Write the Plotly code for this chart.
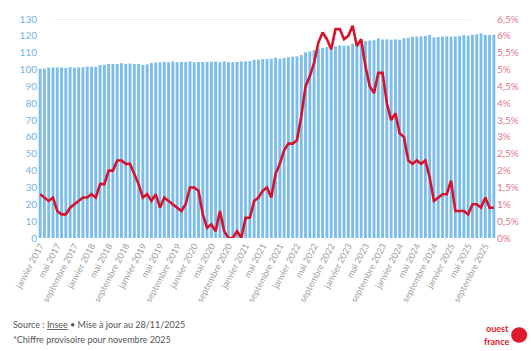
import plotly.graph_objects as go

# Mois de janvier 2017 à novembre 2025
mois_noms = ["janvier", "février", "mars", "avril", "mai", "juin", "juillet",
             "août", "septembre", "octobre", "novembre", "décembre"]
mois = [f"{m} {a}" for a in range(2017, 2026) for m in mois_noms][:107]

# Indice des prix à la consommation (base 100 en 2015)
indice = [
    100.41, 100.53, 101.16, 101.25, 101.25, 101.23, 100.92, 101.40, 101.16, 101.29, 101.39, 101.70,
    101.59, 101.69, 102.71, 102.83, 103.30, 103.32, 103.24, 103.75, 103.41, 103.56, 103.30, 103.25,
    102.70, 103.02, 103.89, 104.17, 104.24, 104.50, 104.30, 104.76, 104.39, 104.51, 104.42, 104.87,
    104.23, 104.48, 104.54, 104.61, 104.62, 104.76, 104.39, 104.85, 104.37, 104.36, 104.55, 104.76,
    104.85, 104.98, 105.71, 105.88, 106.14, 106.25, 106.39, 106.99, 106.43, 106.87, 107.33, 107.63,
    107.79, 108.64, 110.21, 110.71, 111.54, 112.46, 112.74, 113.34, 112.68, 113.81, 114.29, 114.16,
    114.20, 115.33, 116.34, 117.08, 116.98, 117.21, 117.36, 118.55, 117.80, 117.90, 117.69, 117.94,
    117.64, 118.57, 118.86, 119.42, 119.55, 119.73, 119.94, 120.56, 119.11, 119.36, 119.54, 119.68,
    119.52, 119.64, 119.91, 120.41, 120.08, 120.63, 120.90, 121.46, 120.55, 120.52, 120.58,
]

# Inflation sur un an (%)
inflation = [
    1.3, 1.2, 1.1, 1.2, 0.8, 0.7, 0.7, 0.9, 1.0, 1.1, 1.2, 1.2,
    1.3, 1.2, 1.6, 1.6, 2.0, 2.0, 2.3, 2.3, 2.2, 2.2, 1.9, 1.6,
    1.2, 1.3, 1.1, 1.3, 0.9, 1.2, 1.1, 1.0, 0.9, 0.8, 1.0, 1.5,
    1.5, 1.4, 0.7, 0.3, 0.4, 0.2, 0.8, 0.2, 0.0, 0.0, 0.2, 0.0,
    0.6, 0.6, 1.1, 1.2, 1.4, 1.5, 1.2, 1.9, 2.2, 2.6, 2.8, 2.8,
    2.9, 3.6, 4.5, 4.8, 5.2, 5.8, 6.1, 5.9, 5.6, 6.2, 6.2, 5.9,
    6.0, 6.3, 5.7, 5.9, 5.1, 4.5, 4.3, 4.9, 4.9, 4.0, 3.5, 3.7,
    3.1, 3.0, 2.3, 2.2, 2.3, 2.2, 2.3, 1.8, 1.1, 1.2, 1.3, 1.3,
    1.7, 0.8, 0.8, 0.8, 0.7, 1.0, 1.0, 0.9, 1.2, 0.9, 0.9,
]

# Graduations affichées sur l'axe des mois (tous les quatre mois)
ticks_mois = mois[::4]

police = "Lato, 'Open Sans', sans-serif"

fig = go.Figure()
fig.add_trace(go.Bar(
    x=mois, y=indice, marker=dict(color="#7dbdec", line=dict(width=0)),
    name="Indice", showlegend=False,
))
fig.add_trace(go.Scatter(
    x=mois, y=inflation, yaxis="y2", mode="lines",
    line=dict(color="#d7132c", width=2.6), name="Inflation", showlegend=False,
))

fig.update_layout(
    width=531, height=351,
    margin=dict(l=38, r=34, t=12, b=113),
    paper_bgcolor="white", plot_bgcolor="white",
    separators=", ",
    bargap=0.32,
    font=dict(family=police),
    xaxis=dict(
        type="category", tickmode="array", tickvals=ticks_mois, ticktext=ticks_mois,
        tickangle=-62, tickfont=dict(size=9, color="#a0a0a0"),
        showgrid=False, showline=False, ticks="", zeroline=False,
    ),
    yaxis=dict(
        range=[0, 130], dtick=10, showgrid=False, zeroline=False, showline=False,
        tickfont=dict(size=10, color="#72b4e6"), ticks="",
    ),
    yaxis2=dict(
        overlaying="y", side="right", range=[0, 6.5], dtick=0.5, ticksuffix="%",
        showgrid=False, zeroline=False, showline=False,
        tickfont=dict(size=10, color="#e0788a"), ticks="",
    ),
    shapes=[
        dict(type="line", xref="paper", yref="y", x0=0.035, x1=0.94, y0=130, y1=130,
             line=dict(color="#e6e6e6", width=1), layer="below"),
        dict(type="circle", xref="paper", yref="paper",
             x0=1.033, x1=1.068, y0=-0.478, y1=-0.407,
             fillcolor="#e0192f", line=dict(width=0)),
    ],
    annotations=[
        dict(text="Source : <u>Insee</u> • Mise à jour au 28/11/2025",
             xref="paper", yref="paper", x=-0.058, y=-0.362, xanchor="left", yanchor="top",
             showarrow=False, font=dict(size=9, color="#555555", family=police)),
        dict(text="*Chiffre provisoire pour novembre 2025",
             xref="paper", yref="paper", x=-0.058, y=-0.428, xanchor="left", yanchor="top",
             showarrow=False, font=dict(size=9, color="#555555", family=police)),
        dict(text="<b>ouest</b>",
             xref="paper", yref="paper", x=1.03, y=-0.385, xanchor="right", yanchor="top",
             showarrow=False, borderpad=0,
             font=dict(size=9, color="#e0192f", family=police)),
        dict(text="<b>france</b>",
             xref="paper", yref="paper", x=1.03, y=-0.445, xanchor="right", yanchor="top",
             showarrow=False, borderpad=0,
             font=dict(size=9, color="#e0192f", family=police)),
    ],
)

fig.write_html("out.html")
